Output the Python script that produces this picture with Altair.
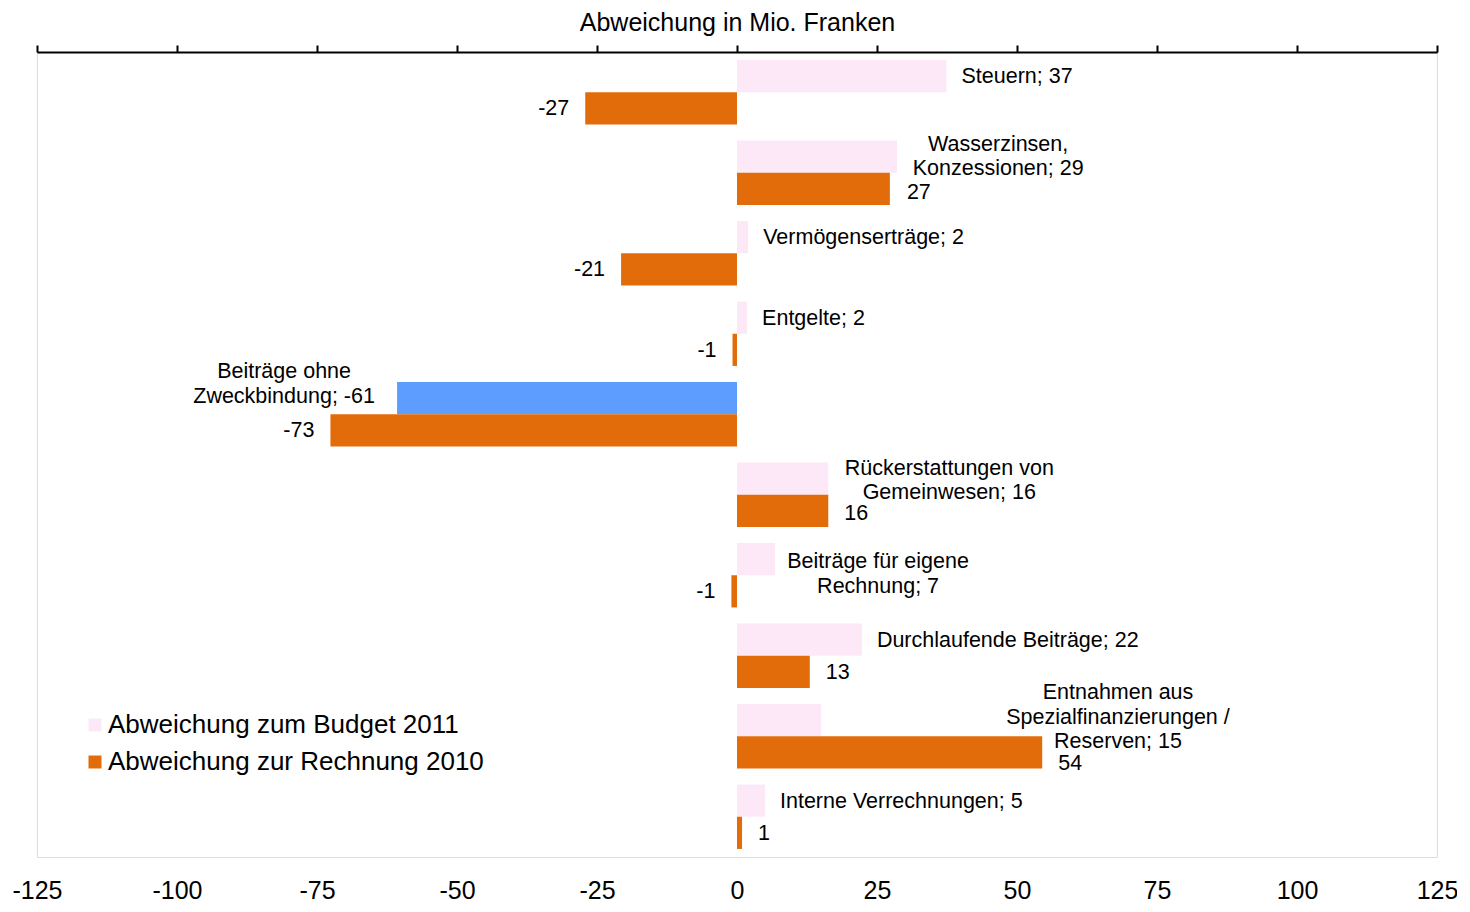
import altair as alt
import pandas as pd

# ---------------- data ----------------
categories = [
    "Steuern",
    "Wasserzinsen, Konzessionen",
    "Vermögenserträge",
    "Entgelte",
    "Beiträge ohne Zweckbindung",
    "Rückerstattungen von Gemeinwesen",
    "Beiträge für eigene Rechnung",
    "Durchlaufende Beiträge",
    "Entnahmen aus Spezialfinanzierungen / Reserven",
    "Interne Verrechnungen",
]
label_names = [
    "Steuern",
    "Wasserzinsen,\nKonzessionen",
    "Vermögenserträge",
    "Entgelte",
    "Beiträge ohne\nZweckbindung",
    "Rückerstattungen von\nGemeinwesen",
    "Beiträge für eigene\nRechnung",
    "Durchlaufende Beiträge",
    "Entnahmen aus\nSpezialfinanzierungen /\nReserven",
    "Interne Verrechnungen",
]
budget_2011 = [37.4, 28.6, 2.0, 1.8, -60.7, 16.3, 6.8, 22.3, 15.0, 5.0]
rechnung_2010 = [-27.1, 27.3, -20.7, -0.8, -72.6, 16.3, -1.0, 13.0, 54.5, 0.9]
series_names = ["Abweichung zum Budget 2011", "Abweichung zur Rechnung 2010"]
negative_key = "Abweichung zum Budget 2011 (negativ)"
x_ticks = [-125, -100, -75, -50, -25, 0, 25, 50, 75, 100, 125]

# ---------------- styles ----------------
FONT = "Liberation Sans"
PINK = "#FDE8F8"
ORANGE = "#E36C0A"
BLUE = "#5C9DFF"

# label placement tweaks (align, dx, dy) for labels that Excel moved
budget_label_layout = {
    1: ("center", 101, -12),
    4: ("center", -113, -26),
    5: ("center", 121, -10),
    6: ("center", 103, 3),
    8: ("center", 297, -27),
}
rechnung_label_layout = {1: ("left", 17, 4), 5: ("left", 16, 3), 8: ("left", 16, 12)}

rows = []
for i, cat in enumerate(categories):
    b = budget_2011[i]
    r = rechnung_2010[i]
    rows.append(dict(cat=cat, series=series_names[0], value=b,
                     key=series_names[0] if b >= 0 else negative_key,
                     label=f"{label_names[i]}; {int(round(b))}",
                     layout=budget_label_layout.get(i, ("left", 15, 1) if b >= 0 else ("right", -15, 1))))
    rows.append(dict(cat=cat, series=series_names[1], value=r,
                     key=series_names[1],
                     label=f"{int(round(r))}",
                     layout=rechnung_label_layout.get(i, ("left", 16, 1) if r >= 0 else ("right", -16, 1))))
df = pd.DataFrame(rows)

xscale = alt.Scale(domain=[-125, 125], nice=False, zero=False)
yscale = alt.Scale(paddingInner=0.2, paddingOuter=0.1)
yoff_scale = alt.Scale(paddingInner=0, paddingOuter=0)

y_enc = alt.Y("cat:N", sort=categories, scale=yscale, axis=None)
yoff_enc = alt.YOffset("series:N", sort=series_names, scale=yoff_scale)

bottom_axis = alt.Axis(orient="bottom", values=x_ticks, domain=False, ticks=False, tickSize=0,
                       grid=False, labelFontSize=25, labelFont=FONT, labelColor="black",
                       labelPadding=21, labelFlush=False, title=None,
                       labelExpr="toString(datum.value)")
top_axis = alt.Axis(orient="top", values=x_ticks, domain=True, domainColor="black", domainWidth=2,
                    ticks=True, tickColor="black", tickWidth=2, tickSize=7, labels=False,
                    grid=False, title="Abweichung in Mio. Franken", titleFont=FONT,
                    titleFontSize=25, titleFontWeight="normal", titleColor="black",
                    titlePadding=9)

bars = alt.Chart(df[["cat", "series", "value", "key"]]).mark_bar().encode(
    x=alt.X("value:Q", scale=xscale, axis=bottom_axis),
    y=y_enc,
    yOffset=yoff_enc,
    color=alt.Color(
        "key:N",
        scale=alt.Scale(domain=series_names + [negative_key], range=[PINK, ORANGE, BLUE]),
        legend=alt.Legend(values=series_names, orient="none", legendX=45, legendY=660,
                          title=None, symbolType="square", symbolSize=169, symbolStrokeWidth=0,
                          labelFont=FONT, labelFontSize=26, labelColor="black", labelOffset=0,
                          rowPadding=11, padding=0, labelLimit=600),
    ),
)

top = alt.Chart(df[["value"]]).mark_point(opacity=0).encode(
    x=alt.X("value:Q", scale=xscale, axis=top_axis)
)

layers = [bars, top]
groups = {}
for row in rows:
    groups.setdefault(row["layout"], []).append(row)
for (align, dx, dy), grp in groups.items():
    gdf = pd.DataFrame([{k: v for k, v in g.items() if k != "layout"} for g in grp])
    layers.append(
        alt.Chart(gdf).mark_text(align=align, baseline="middle", dx=dx, dy=dy, font=FONT,
                                 fontSize=21.5, color="black", lineBreak="\n", lineHeight=24.5).encode(
            x=alt.X("value:Q", scale=xscale, axis=None),
            y=y_enc,
            yOffset=yoff_enc,
            text="label:N",
        )
    )

chart = alt.layer(*layers).resolve_axis(x="independent").properties(
    width=1400, height=805, autosize="none",
    padding={"left": 29, "top": 44, "right": 20, "bottom": 47},
).configure_view(stroke="#868686", strokeWidth=2).configure(background="white")

chart.save("out.html", embed_options={"renderer": "svg", "actions": False})
